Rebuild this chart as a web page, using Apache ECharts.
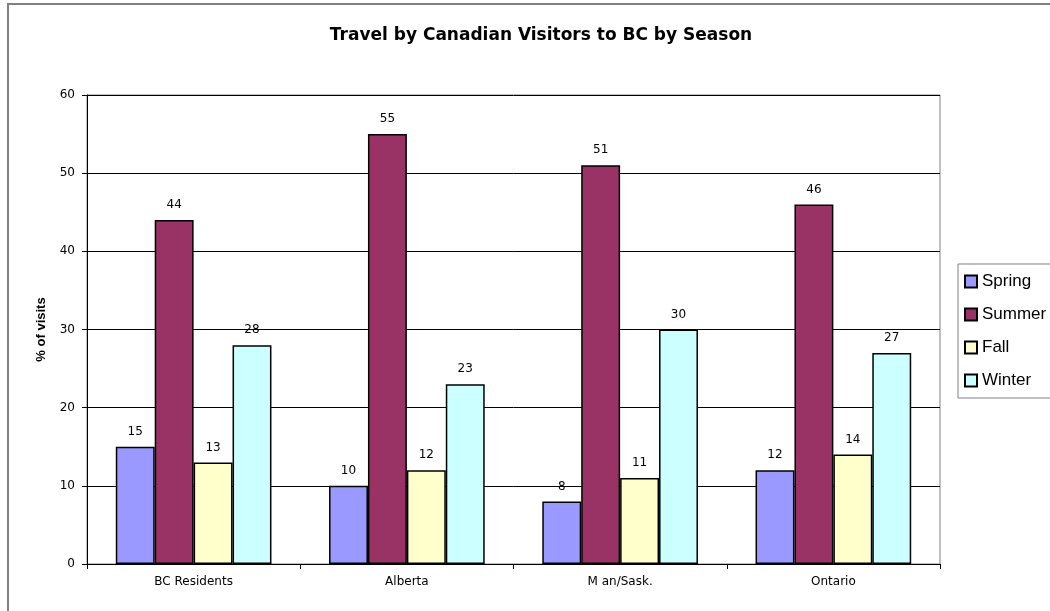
<!DOCTYPE html>
<html><head><meta charset="utf-8">
<script src="https://cdn.jsdelivr.net/npm/echarts@6/dist/echarts.min.js"></script>
<style>html,body{margin:0;padding:0;background:#fff}#c{width:1050px;height:611px}</style>
</head><body><div id="c"></div>
<script>
const categories = ['BC Residents', 'Alberta', 'M an/Sask.', 'Ontario'];
const spring = [15, 10, 8, 12];
const summer = [44, 55, 51, 46];
const fall = [13, 12, 11, 14];
const winter = [28, 23, 30, 27];
const seriesNames = ['Spring', 'Summer', 'Fall', 'Winter'];
const yTicks = [0, 10, 20, 30, 40, 50, 60];

const colors = ['#9999FF', '#993366', '#FFFFCC', '#CCFFFF'];
const values = [spring, summer, fall, winter];
const font = 'Liberation Sans, Arial, sans-serif';
const wide = 'DejaVu Sans, sans-serif';

const chart = echarts.init(document.getElementById('c'));
chart.setOption({
  animation: false,
  backgroundColor: '#fff',
  title: {
    text: 'Travel by Canadian Visitors to BC by Season',
    left: 536, top: 22, textAlign: 'center',
    textStyle: { fontFamily: wide, fontSize: 17, fontWeight: 'bold', color: '#000' }
  },
  graphic: [{
    type: 'rect', shape: { x: 8, y: 4, width: 1100, height: 700 },
    style: { fill: 'none', stroke: '#808080', lineWidth: 2 }, silent: true, z: -1
  }],
  legend: {
    orient: 'vertical', left: 958, top: 264,
    itemWidth: 12, itemHeight: 12, itemGap: 16,
    padding: [9, 30, 9, 6],
    borderColor: '#808080', borderWidth: 1,
    textStyle: { fontFamily: font, fontSize: 17, color: '#000' },
    icon: 'rect',
    data: seriesNames
  },
  grid: { left: 87, right: 110, top: 95, bottom: 47, show: true, borderColor: '#808080', borderWidth: 1 },
  xAxis: {
    type: 'category', data: categories,
    axisLine: { lineStyle: { color: '#000' } },
    axisTick: { show: true, length: 5, lineStyle: { color: '#000' } },
    axisLabel: { fontFamily: wide, fontSize: 12, color: '#000', margin: 12 }
  },
  yAxis: {
    type: 'value', min: yTicks[0], max: yTicks[yTicks.length - 1], interval: 10,
    name: '% of visits', nameLocation: 'middle', nameGap: 39, nameRotate: 90,
    nameTextStyle: { fontFamily: font, fontSize: 13, fontWeight: 'bold', color: '#000' },
    axisLine: { show: true, lineStyle: { color: '#000' } },
    axisTick: { show: true, length: 5, lineStyle: { color: '#000' } },
    axisLabel: { fontFamily: wide, fontSize: 12, color: '#000', margin: 12 },
    splitLine: { lineStyle: { color: '#000', width: 1 } }
  },
  series: seriesNames.map((n, i) => ({
    name: n, type: 'bar', data: values[i],
    barGap: '0%', barCategoryGap: '27%',
    itemStyle: { color: colors[i], borderColor: '#000', borderWidth: 1.5 },
    label: { show: true, position: 'top', distance: 9, fontFamily: wide, fontSize: 12, color: '#000' }
  }))
});
</script></body></html>
